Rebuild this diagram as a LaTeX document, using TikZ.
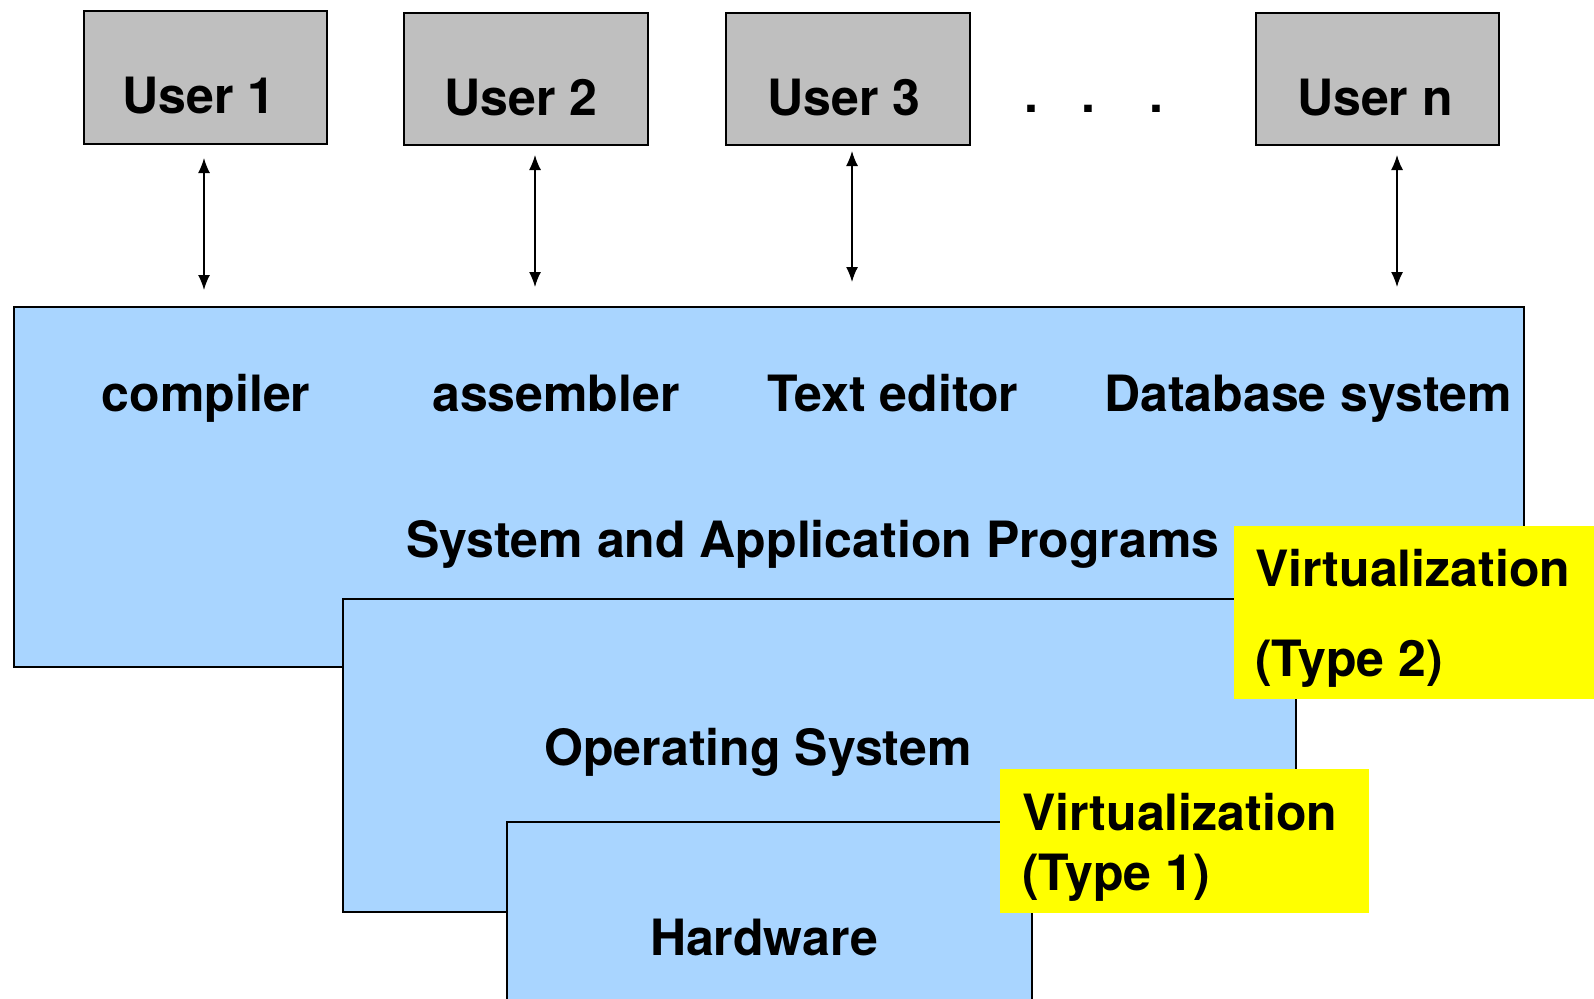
\documentclass[tikz,border=0pt]{standalone}
\usepackage{fontspec}
\setmainfont{TeX Gyre Heros}
\usetikzlibrary{arrows.meta}
\definecolor{usergray}{RGB}{191,191,191}
\definecolor{layerblue}{RGB}{169,213,255}
\definecolor{virtyellow}{RGB}{255,255,0}
\tikzset{
  x=1pt, y=-1pt,
  userbox/.style={draw=black, line width=2pt, fill=usergray, inner sep=0pt, anchor=north west},
  layerbox/.style={draw=black, line width=2pt, fill=layerblue, inner sep=0pt, anchor=north west},
  virtbox/.style={fill=virtyellow, inner sep=0pt, anchor=north west},
  lbl/.style={inner sep=0pt, anchor=base, font=\bfseries\fontsize{50}{60}\selectfont},
  lblw/.style={lbl, anchor=base west},
  link/.style={line width=1.4pt, {Latex[length=15pt,width=12pt]}-{Latex[length=15pt,width=12pt]}}
}
\begin{document}
\begin{tikzpicture}
\useasboundingbox (0,0) rectangle (1594,998);
\clip (0,0) rectangle (1594,998);
\fill[white] (0,0) rectangle (1594,998);

% users
\node[userbox, minimum width=243pt, minimum height=133pt] (u1) at (83,10) {};
\node[userbox, minimum width=244pt, minimum height=132pt] (u2) at (403,12) {};
\node[userbox, minimum width=244pt, minimum height=132pt] (u3) at (725,12) {};
\node[userbox, minimum width=243pt, minimum height=132pt] (un) at (1255,12) {};
\node[lbl] (u1t) at (199,113) {User 1};
\node[lbl] (u2t) at (521,115) {User 2};
\node[lbl] (u3t) at (844,115) {User 3};
\node[lbl] (unt) at (1375,115) {User n};
\node[lblw] (dots) at (1024,112) {.\hspace{43pt}.\hspace{54pt}.};

% software / hardware layers
\node[layerbox, minimum width=1510pt, minimum height=360pt] (sys) at (13,306) {};
\node[layerbox, minimum width=953pt, minimum height=313pt] (os) at (342,598) {};
\node[layerbox, minimum width=525pt, minimum height=200pt] (hw) at (506,821) {};

% hypervisor labels
\node[virtbox, minimum width=370pt, minimum height=173pt] (v2) at (1234,526) {};
\node[virtbox, minimum width=369pt, minimum height=144pt] (v1) at (1000,769) {};

% texts inside the layers
\node[lbl] (comp) at (206,411) {compiler};
\node[lbl] (asm) at (556,411) {assembler};
\node[lbl] (ted) at (893,411) {Text editor};
\node[lbl] (db) at (1308,411) {Database system};
\node[lbl] (sysl) at (813,557) {System and Application Programs};
\node[lbl] (osl) at (758,765) {Operating System};
\node[lbl] (hwl) at (764,955) {Hardware};
\node[lblw] (v2a) at (1255,586) {Virtualization};
\node[lblw] (v2b) at (1255,676) {(Type 2)};
\node[lblw] (v1a) at (1022,830) {Virtualization};
\node[lblw] (v1b) at (1022,890) {(Type 1)};

% user <-> program links
\coordinate (a1t) at (204,158); \coordinate (a1b) at (204,290);
\coordinate (a2t) at (535,155); \coordinate (a2b) at (535,287);
\coordinate (a3t) at (852,151); \coordinate (a3b) at (852,282);
\coordinate (ant) at (1397,155); \coordinate (anb) at (1397,287);
\draw[link] (a1t) -- (a1b);
\draw[link] (a2t) -- (a2b);
\draw[link] (a3t) -- (a3b);
\draw[link] (ant) -- (anb);
\end{tikzpicture}
\end{document}
